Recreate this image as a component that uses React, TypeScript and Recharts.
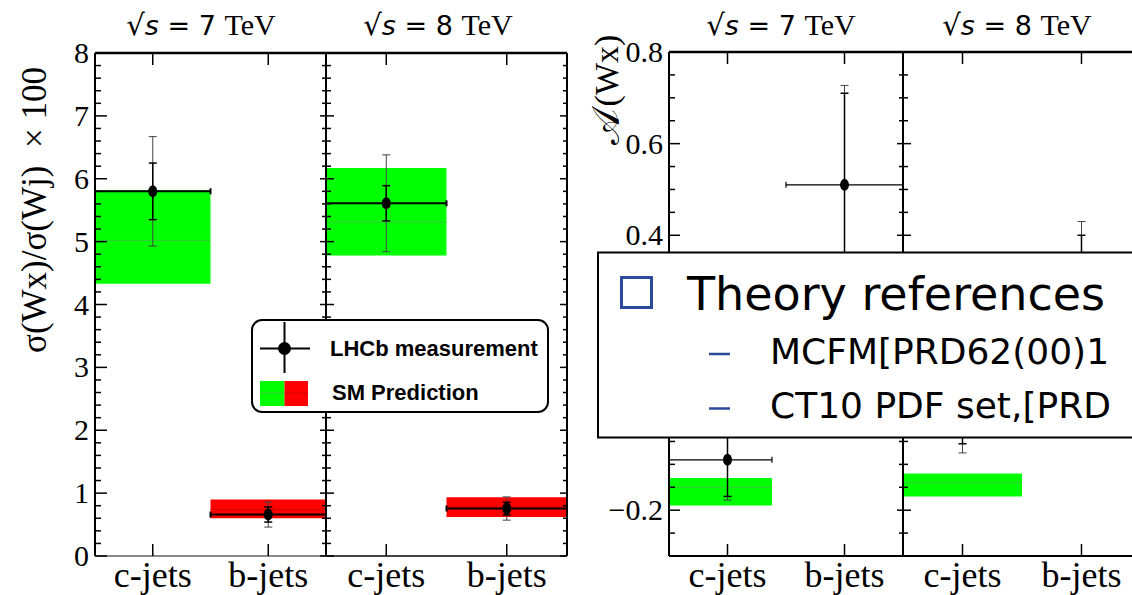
import React from "react";
import {
  ComposedChart,
  Scatter,
  ErrorBar,
  XAxis,
  YAxis,
  ReferenceArea,
  ReferenceLine,
} from "recharts";

const categories = ["c-jets", "b-jets"];
const catCenters = [0.5, 1.5];
const binLow = [0, 1];
const binHigh = [1, 2];
const asym7BinHigh = [0.88, 2];

// sigma(Wx)/sigma(Wj) x 100
const ratio7Value = [5.8, 0.66];
const ratio7Stat = [0.45, 0.12];
const ratio7Total = [0.87, 0.2];
const ratio7SmLow = [4.33, 0.6];
const ratio7SmHigh = [5.82, 0.9];
const ratio7SmMid = [5.02, 0.74];

const ratio8Value = [5.61, 0.755];
const ratio8Stat = [0.28, 0.1];
const ratio8Total = [0.77, 0.185];
const ratio8SmLow = [4.78, 0.62];
const ratio8SmHigh = [6.17, 0.935];
const ratio8SmMid = [5.31, 0.78];

// A(Wx)
const asym7Value = [-0.09, 0.51];
const asym7Stat = [0.08, 0.2];
const asym7Total = [0.088, 0.217];
const asym7SmLow = [-0.19];
const asym7SmHigh = [-0.13];
const asym7SmMid = [-0.15];

const asym8Value = [0.02, 0.21];
const asym8Stat = [0.075, 0.19];
const asym8Total = [0.095, 0.22];
const asym8SmLow = [-0.17];
const asym8SmHigh = [-0.12];
const asym8SmMid = [-0.14];

const ratioTicks = [0, 1, 2, 3, 4, 5, 6, 7, 8];
const asymTicks = [-0.2, 0, 0.2, 0.4, 0.6, 0.8];

const bandColors = ["#00ff00", "#ff0000"];
const bandMidColors = ["#3cc83c", "#d40000"];

const SERIF = "'Liberation Serif', 'Times New Roman', serif";
const SANS = "'DejaVu Sans', sans-serif";
const BLUE = "#2b4a9a";

function steps(lo: number, hi: number, step: number) {
  const n = Math.round((hi - lo) / step);
  return Array.from({ length: n + 1 }, (_, i) => +(lo + i * step).toFixed(4));
}

function fmtAsym(v: number) {
  if (Math.abs(v) < 1e-9) return "0";
  return (v < 0 ? "\u2212" : "") + Math.abs(v).toFixed(1);
}

const empty = () => <g />;

interface PanelProps {
  left: number;
  width: number;
  margin: { top: number; left: number; right: number };
  labelWidth: number;
  domain: [number, number];
  labelTicks: number[];
  minorStep: number;
  fmt: (v: number) => string;
  values: number[];
  stat: number[];
  total: number[];
  smLow: number[];
  smHigh: number[];
  smMid: number[];
  binHi: number[];
  ticksLen: [number, number, number, number];
  bottomColor: string;
  lineW: number;
}

function Panel(p: PanelProps) {
  const rows = p.values.map((v, i) => ({
    x: catCenters[i],
    y: v,
    eStat: p.stat[i],
    eTot: p.total[i],
    ex: [catCenters[i] - binLow[i], p.binHi[i] - catCenters[i]],
  }));
  const bands = p.smLow.map((lo, i) => ({
    x1: binLow[i],
    x2: p.binHi[i],
    y1: lo,
    y2: p.smHigh[i],
    mid: p.smMid[i],
    i,
  }));
  const yTicks = steps(p.domain[0], p.domain[1], p.minorStep);
  const isMajor = (v: number) => p.labelTicks.some((m) => Math.abs(m - v) < 1e-6);
  const [lM, lm, rM, rm] = p.ticksLen;
  const plotW = p.width - p.margin.left - p.margin.right - p.labelWidth;
  const plotTop = p.margin.top;
  const showLabels = p.labelWidth > 1;

  return (
    <div style={{ position: "absolute", left: p.left, top: 0 }}>
      <ComposedChart
        width={p.width}
        height={595}
        margin={{ top: p.margin.top, left: p.margin.left, right: p.margin.right, bottom: 0 }}
      >
        <XAxis
          xAxisId={0}
          dataKey="x"
          type="number"
          domain={[0, 2]}
          ticks={catCenters}
          interval={0}
          allowDataOverflow
          height={39}
          tickSize={0}
          tickMargin={0}
          tickLine={false}
          axisLine={{ stroke: p.bottomColor, strokeWidth: 2 }}
          tick={(t: any) => (
            <g>
              <line x1={t.x} x2={t.x} y1={t.y} y2={t.y - 12} stroke="#000" strokeWidth={1.5} />
              <line x1={t.x} x2={t.x} y1={plotTop} y2={plotTop + 12} stroke="#000" strokeWidth={1.5} />
              <text x={t.x} y={t.y + 31} textAnchor="middle" fontFamily={SERIF} fontSize={36} fill="#000">
                {categories[Math.floor(t.payload.value)]}
              </text>
            </g>
          )}
        />
        <YAxis
          yAxisId={0}
          dataKey="y"
          type="number"
          domain={p.domain}
          ticks={yTicks}
          interval={0}
          allowDataOverflow
          width={p.labelWidth}
          tickSize={0}
          tickMargin={0}
          tickLine={false}
          axisLine={{ stroke: "#000", strokeWidth: 2 }}
          tick={(t: any) => {
            const major = isMajor(t.payload.value);
            const xr = t.x + plotW;
            return (
              <g>
                <line x1={t.x} x2={t.x + (major ? lM : lm)} y1={t.y} y2={t.y} stroke="#000" strokeWidth={1.5} />
                <line x1={xr} x2={xr - (major ? rM : rm)} y1={t.y} y2={t.y} stroke="#000" strokeWidth={1.5} />
                {major && showLabels ? (
                  <text x={t.x - 6} y={t.y + 10} textAnchor="end" fontFamily={SERIF} fontSize={30} fill="#000">
                    {p.fmt(t.payload.value)}
                  </text>
                ) : null}
              </g>
            );
          }}
        />

        {bands.map((b) => (
          <ReferenceArea key={`a${b.i}`} x1={b.x1} x2={b.x2} y1={b.y1} y2={b.y2}
            fill={bandColors[b.i]} fillOpacity={1} stroke="none" ifOverflow="hidden" />
        ))}
        {bands.map((b) => (
          <ReferenceLine key={`l${b.i}`} segment={[{ x: b.x1, y: b.mid }, { x: b.x2, y: b.mid }]}
            stroke={bandMidColors[b.i]} strokeWidth={1} ifOverflow="hidden" />
        ))}

        <ReferenceLine y={p.domain[1]} stroke="#000" strokeWidth={2.5} ifOverflow="visible" />
        <ReferenceLine x={2} stroke="#000" strokeWidth={2} ifOverflow="visible" />

        <Scatter data={rows} dataKey="y" isAnimationActive={false} shape={empty}>
          <ErrorBar dataKey="eTot" direction="y" width={4} stroke="#444" strokeWidth={1} />
        </Scatter>
        <Scatter
          data={rows}
          dataKey="y"
          isAnimationActive={false}
          shape={(s: any) => <ellipse cx={s.cx} cy={s.cy} rx={4.5} ry={6} fill="#000" />}
        >
          <ErrorBar dataKey="eStat" direction="y" width={4} stroke="#000" strokeWidth={1.5} />
          <ErrorBar dataKey="ex" direction="x" width={3} stroke="#000" strokeWidth={p.lineW} />
        </Scatter>
      </ComposedChart>
    </div>
  );
}

function Title({ x, energy }: { x: number; energy: string }) {
  return (
    <text x={x} y={35} textAnchor="middle" fontSize={27} fill="#000">
      <tspan fontFamily={SANS} fontSize={29}>{"\u221A"}</tspan>
      <tspan fontFamily={SANS} fontStyle="italic">s</tspan>
      <tspan fontFamily={SANS}>{` = ${energy} `}</tspan>
      <tspan fontFamily={SERIF} fontSize={30}>TeV</tspan>
    </text>
  );
}

export default function App() {
  const ratioFmt = (v: number) => String(v);
  return (
    <div style={{ position: "absolute", left: 0, top: 0, width: 1132, height: 595, overflow: "hidden", background: "#fff" }}>
      <Panel left={0} width={328} margin={{ top: 53, left: 0, right: 2 }} labelWidth={95}
        domain={[0, 8]} labelTicks={ratioTicks} minorStep={0.2} fmt={ratioFmt}
        values={ratio7Value} stat={ratio7Stat} total={ratio7Total}
        smLow={ratio7SmLow} smHigh={ratio7SmHigh} smMid={ratio7SmMid} binHi={binHigh}
        ticksLen={[12, 6, 6, 4]} bottomColor="#888" lineW={2} />
      <Panel left={324} width={245} margin={{ top: 53, left: 1, right: 2 }} labelWidth={1}
        domain={[0, 8]} labelTicks={ratioTicks} minorStep={0.2} fmt={ratioFmt}
        values={ratio8Value} stat={ratio8Stat} total={ratio8Total}
        smLow={ratio8SmLow} smHigh={ratio8SmHigh} smMid={ratio8SmMid} binHi={binHigh}
        ticksLen={[8, 5, 7, 4]} bottomColor="#444" lineW={2} />
      <Panel left={580} width={325} margin={{ top: 52, left: 0, right: 2 }} labelWidth={89}
        domain={[-0.3, 0.8]} labelTicks={asymTicks} minorStep={0.05} fmt={fmtAsym}
        values={asym7Value} stat={asym7Stat} total={asym7Total}
        smLow={asym7SmLow} smHigh={asym7SmHigh} smMid={asym7SmMid} binHi={asym7BinHigh}
        ticksLen={[11, 6, 6, 4]} bottomColor="#000" lineW={1.2} />
      <Panel left={901} width={242} margin={{ top: 52, left: 1, right: 2 }} labelWidth={1}
        domain={[-0.3, 0.8]} labelTicks={asymTicks} minorStep={0.05} fmt={fmtAsym}
        values={asym8Value} stat={asym8Stat} total={asym8Total}
        smLow={asym8SmLow} smHigh={asym8SmHigh} smMid={asym8SmMid} binHi={binHigh}
        ticksLen={[8, 5, 8, 4]} bottomColor="#000" lineW={1.2} />

      <svg width={1132} height={595} style={{ position: "absolute", left: 0, top: 0, pointerEvents: "none" }}>
        <Title x={201} energy="7" />
        <Title x={438} energy="8" />
        <Title x={781} energy="7" />
        <Title x={1017} energy="8" />

        <text x={34} y={210} transform="rotate(-90 34 210)" textAnchor="middle" dominantBaseline="central"
          fontFamily={SERIF} fontSize={35} fill="#000" xmlSpace="preserve">
          {"\u03C3(Wx)/\u03C3(Wj)  \u00D7 100"}
        </text>
        <text x={606} y={90} transform="rotate(-90 606 90)" textAnchor="middle" dominantBaseline="central"
          fontFamily={SERIF} fontSize={34} fill="#000">
          <tspan fontSize={38}>{"\uD835\uDC9C"}</tspan>
          <tspan dx={3}>(Wx)</tspan>
        </text>

        {/* LHCb legend */}
        <rect x={252} y={320} width={296} height={92} rx={10} ry={10} fill="#fff" stroke="#000" strokeWidth={2} />
        <line x1={260} y1={348.5} x2={310} y2={348.5} stroke="#000" strokeWidth={2} />
        <line x1={284.5} y1={322} x2={284.5} y2={373} stroke="#000" strokeWidth={2} />
        <circle cx={284.5} cy={348.5} r={6.5} fill="#000" />
        <text x={330} y={356} fontFamily="'Liberation Sans', Arial, sans-serif" fontWeight="bold" fontSize={22} fill="#000">
          LHCb measurement
        </text>
        <rect x={260} y={381} width={24.5} height={25} fill={bandColors[0]} />
        <rect x={284.5} y={381} width={23.5} height={25} fill={bandColors[1]} />
        <line x1={260} y1={393} x2={284.5} y2={393} stroke={bandMidColors[0]} strokeWidth={1} />
        <line x1={284.5} y1={393} x2={308} y2={393} stroke={bandMidColors[1]} strokeWidth={1} />
        <text x={332} y={400} fontFamily="'Liberation Sans', Arial, sans-serif" fontWeight="bold" fontSize={22} fill="#000">
          SM Prediction
        </text>

        {/* Theory references legend */}
        <rect x={598} y={252.5} width={600} height={185} fill="#fff" stroke="#000" strokeWidth={2} />
        <rect x={621.5} y={277.5} width={30} height={30} fill="none" stroke={BLUE} strokeWidth={3} />
        <text x={687} y={310} fontFamily={SANS} fontSize={46} fill="#000">Theory references</text>
        <line x1={709} y1={354} x2={730} y2={354} stroke={BLUE} strokeWidth={2.5} />
        <text x={770} y={364} fontFamily={SANS} fontSize={36} fill="#000">MCFM[PRD62(00)1</text>
        <line x1={709} y1={408.5} x2={730} y2={408.5} stroke={BLUE} strokeWidth={2.5} />
        <text x={770} y={418} fontFamily={SANS} fontSize={36} fill="#000">CT10 PDF set,[PRD</text>
      </svg>
    </div>
  );
}
